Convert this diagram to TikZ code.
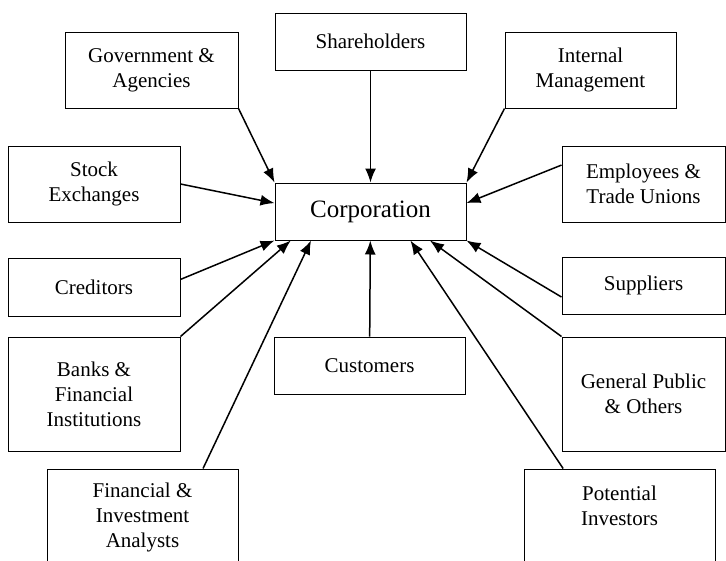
\documentclass[tikz,border=0pt]{standalone}
\usepackage{fontspec}
\setmainfont{Liberation Serif}
\usetikzlibrary{arrows.meta}

\begin{document}
\begin{tikzpicture}[x=1pt,y=-1pt,line width=1.5pt,-{Latex[length=14pt,width=11pt]},
  party/.style={draw,line width=1pt,align=center,inner sep=0pt,
    font=\fontsize{21}{25}\selectfont},
  wide/.style={party,minimum width=191pt,minimum height=57pt},
  side/.style={party,minimum width=172pt,minimum height=#1},
  right/.style={party,minimum width=163pt,minimum height=#1}]
\useasboundingbox (0,0) rectangle (726,560);
% the firm in the middle
\node[wide,font=\fontsize{25}{30}\selectfont] (corp) at (370.5,211.5) {Corporation};
% top row
\node[wide] (share) at (370.5,41.5) {Shareholders};
\node[party,minimum width=173pt,minimum height=76pt] (gov) at (151.5,70) {Government \&\\Agencies};
\node[party,minimum width=171pt,minimum height=76pt] (mgmt) at (590.5,70) {Internal\\Management};
% left column
\node[side=76pt] (stock) at (94,184) {Stock\\Exchanges};
\node[side=58pt] (cred) at (94,287) {Creditors};
\node[side=114pt] (banks) at (94,394) {Banks \&\\Financial\\Institutions};
% right column
\node[right=76pt] (empl) at (643.5,184) {Employees \&\\Trade Unions};
\node[right=57pt] (supp) at (643.5,285.5) {Suppliers};
\node[right=114pt] (public) at (643.5,394) {General Public\\\& Others};
% bottom
\node[wide] (cust) at (369.5,365.5) {Customers};
\node[wide,minimum height=97pt] (analysts) at (142.5,517.5) {Financial \&\\Investment\\Analysts};
\node[wide,minimum height=97pt,text depth=24pt] (invest) at (619.5,517.5) {Potential\\Investors};

\path
  (share) edge (corp)
  (gov.south east) edge (corp.north west)
  (mgmt.south west) edge (corp.north east)
  (stock.east) edge (corp.175)
  (empl.167.6) edge (corp.5.7)
  (cred.5.3) edge (corp.south west)
  (banks.north east) edge (corp.200)
  (analysts.39.9) edge (corp.206.4)
  (cust) edge (corp)
  (invest.139.9) edge (corp.324.2)
  (public.north west) edge (corp.334.8)
  (supp.188.7) edge (corp.south east)
;
\end{tikzpicture}
\end{document}
